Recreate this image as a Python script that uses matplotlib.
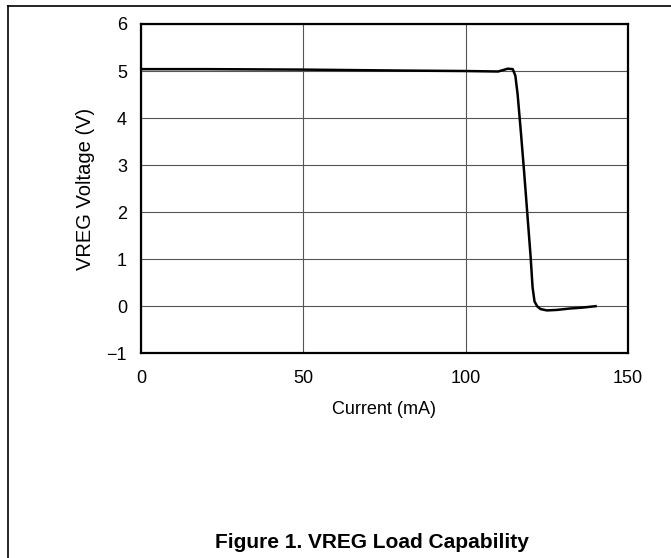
import matplotlib
matplotlib.use("Agg")
import matplotlib.pyplot as plt
from matplotlib.lines import Line2D

plt.rcParams['font.family'] = ['Liberation Sans', 'DejaVu Sans']

# load curve
current_ma = [0, 20, 50, 80, 100, 110, 111.5, 113, 114.5, 115.3, 116, 117, 118,
              119, 120, 120.6, 121.2, 122, 123, 125, 128, 132, 136, 140]
vreg_v = [5.04, 5.04, 5.03, 5.01, 5.00, 4.99, 5.02, 5.05, 5.04, 4.9, 4.5, 3.7, 2.85,
          1.95, 1.05, 0.4, 0.1, 0.0, -0.06, -0.09, -0.08, -0.05, -0.03, 0.0]

x_ticks = [0, 50, 100, 150]
y_ticks = [-1, 0, 1, 2, 3, 4, 5, 6]

fig = plt.figure(figsize=(6.71, 5.58), dpi=100)
ax = fig.add_axes([0.210, 0.367, 0.726, 0.590])

ax.plot(current_ma, vreg_v, color='black', lw=1.8, zorder=3)

ax.set_xlim(0, 150)
ax.set_ylim(-1, 6)
ax.set_xticks(x_ticks)
ax.set_yticks(y_ticks)
ax.grid(True, color='#555555', lw=0.8)
ax.tick_params(length=0, labelsize=13, colors='black')
ax.tick_params(axis='x', pad=12)
ax.tick_params(axis='y', pad=10)
for s in ax.spines.values():
    s.set_linewidth(1.6)
    s.set_zorder(4)

ax.set_xlabel('Current (mA)', fontsize=13, labelpad=10)
ax.set_ylabel('VREG Voltage (V)', fontsize=14.5, labelpad=8)

fig.text(0.555, 0.027, 'Figure 1. VREG Load Capability', ha='center', va='center',
         fontsize=15, fontweight='bold')

# page frame: top and left edges
fig.add_artist(Line2D([8 / 671, 1], [1 - 6 / 558, 1 - 6 / 558], color='black', lw=1.2,
                      transform=fig.transFigure))
fig.add_artist(Line2D([8 / 671, 8 / 671], [0, 1 - 6 / 558], color='black', lw=1.2,
                      transform=fig.transFigure))

fig.savefig('out.png', dpi=100)
